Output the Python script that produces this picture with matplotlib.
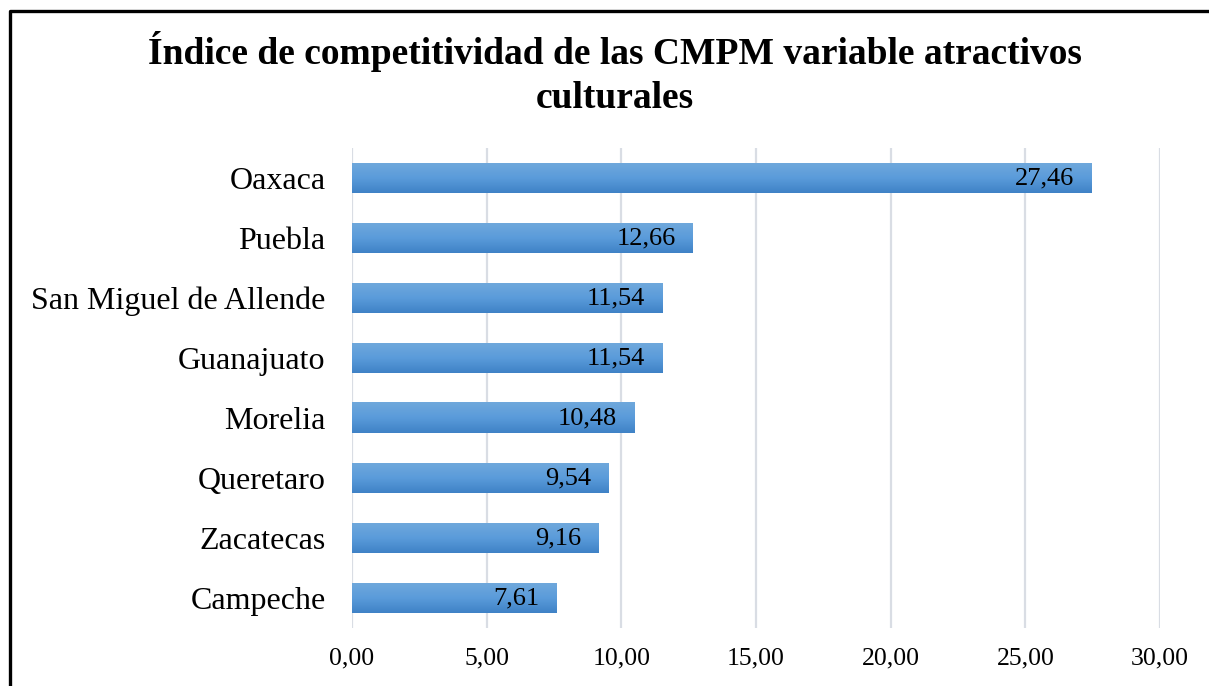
import numpy as np
import matplotlib.pyplot as plt
from matplotlib.lines import Line2D
from matplotlib.colors import LinearSegmentedColormap

plt.rcParams['font.family'] = ['Liberation Serif', 'DejaVu Serif']

ciudades = ['Oaxaca', 'Puebla', 'San Miguel de Allende', 'Guanajuato',
            'Morelia', 'Queretaro', 'Zacatecas', 'Campeche']
valores = [27.46, 12.66, 11.54, 11.54, 10.48, 9.54, 9.16, 7.61]
ticks_x = [0, 5, 10, 15, 20, 25, 30]

fig = plt.figure(figsize=(12.09, 6.86), dpi=100)
ax = fig.add_axes([352/1209, 1-628/686, (1160-352)/1209, 480/686])

ypos = np.arange(len(ciudades))[::-1]
alto = 0.5
bars = ax.barh(ypos, valores, height=alto, color='none', zorder=2)

# gradiente vertical en cada barra
cmap = LinearSegmentedColormap.from_list('g', ['#3F82C6', '#5A9BDA', '#6FA8DC'])
grad = np.linspace(0, 1, 64).reshape(-1, 1)
for b in bars:
    x0, y0 = b.get_x(), b.get_y()
    ax.imshow(grad, cmap=cmap, aspect='auto', origin='lower',
              extent=[x0, x0 + b.get_width(), y0, y0 + b.get_height()], zorder=2)

for y, v in zip(ypos, valores):
    ax.text(v - 0.65, y, f'{v:.2f}'.replace('.', ','), ha='right', va='center',
            fontsize=19, color='black', zorder=3)

ax.set_xlim(0, 30)
ax.set_ylim(-0.5, 7.5)
ax.set_xticks(ticks_x)
ax.set_xticklabels([f'{t:.2f}'.replace('.', ',') for t in ticks_x], fontsize=18.5)
ax.set_yticks(ypos)
ax.set_yticklabels(ciudades, fontsize=23)
ax.tick_params(length=0, axis='both')
ax.tick_params(axis='x', pad=14)
ax.tick_params(axis='y', pad=19)
ax.grid(axis='x', color='#D9DDE4', linewidth=1.6, zorder=0)
ax.set_axisbelow(True)
for s in ax.spines.values():
    s.set_visible(False)

fig.text(615/1209, 1-52/686, 'Índice de competitividad de las CMPM variable atractivos',
         ha='center', va='center', fontsize=27, fontweight='bold')
fig.text(615/1209, 1-98/686, 'culturales',
         ha='center', va='center', fontsize=27, fontweight='bold')

# marco
fig.add_artist(Line2D([10/1209, 10/1209, 1], [0, 1-11/686, 1-11/686],
                      transform=fig.transFigure, color='black', linewidth=2.4))

fig.savefig('out.png', dpi=100)
